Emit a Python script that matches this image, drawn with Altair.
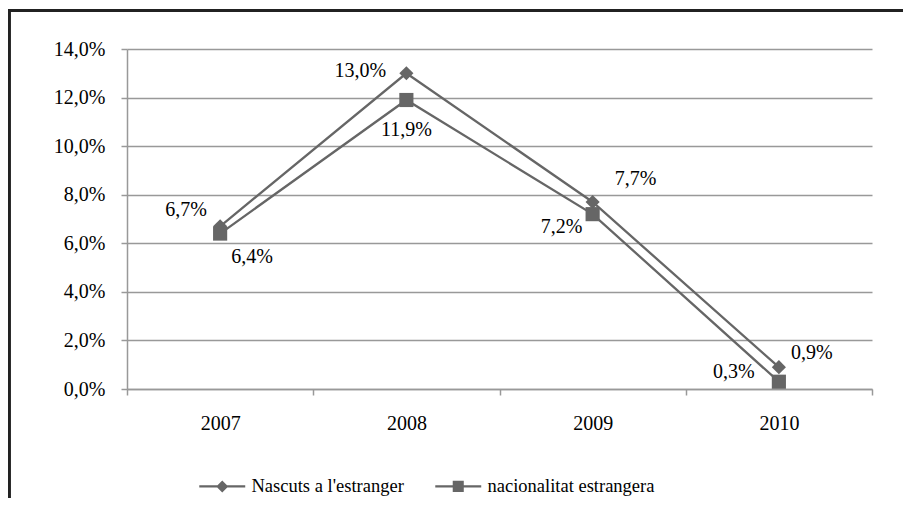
import altair as alt
import pandas as pd

years = ["2007", "2008", "2009", "2010"]
series_names = ["Nascuts a l'estranger", "nacionalitat estrangera"]
nascuts = [6.7, 13.0, 7.7, 0.9]
nacionalitat = [6.4, 11.9, 7.2, 0.3]

rows = []
for s, vals in zip(series_names, [nascuts, nacionalitat]):
    for y, v in zip(years, vals):
        rows.append({"year": y, "series": s, "value": v})
df = pd.DataFrame(rows)

# label placement (pixels) per point
label_offsets = {
    (series_names[0], "2007"): (-34, -16),
    (series_names[0], "2008"): (-46, -2),
    (series_names[0], "2009"): (43, -23),
    (series_names[0], "2010"): (33, -14),
    (series_names[1], "2007"): (32, 23),
    (series_names[1], "2008"): (0, 30),
    (series_names[1], "2009"): (-31, 13),
    (series_names[1], "2010"): (-45, -10),
}

GRAY = "#666666"
GRID = "#999999"
FONT = "Liberation Serif"

base = alt.Chart(df)

x_enc = alt.X(
    "year:O",
    sort=years,
    scale=alt.Scale(paddingInner=0, paddingOuter=0),
    axis=alt.Axis(
        title=None, labelAngle=0, tickBand="extent", grid=False,
        domainColor=GRID, domainWidth=1.5, tickColor=GRID, tickWidth=1.5,
        tickSize=6, labelPadding=18, labelFont=FONT, labelFontSize=20,
        labelColor="black",
    ),
)
y_enc = alt.Y(
    "value:Q",
    scale=alt.Scale(domain=[0, 14], nice=False),
    axis=alt.Axis(
        title=None, values=[0, 2, 4, 6, 8, 10, 12, 14],
        labelExpr="replace(format(datum.value, '.1f'), '.', ',') + '%'",
        grid=True, gridColor=GRID, gridWidth=1.5,
        domainColor=GRID, domainWidth=1.5, tickColor=GRID, tickWidth=1.5,
        tickSize=6, labelPadding=16, labelFont=FONT, labelFontSize=20,
        labelColor="black",
    ),
)

lines = base.mark_line(color=GRAY, strokeWidth=2.3).encode(
    x=x_enc, y=y_enc, detail="series:N"
)

points_a = base.transform_filter(alt.datum.series == series_names[0]).mark_point(
    filled=True, color=GRAY, size=200, opacity=1, shape="diamond"
).encode(x=x_enc, y=y_enc)
points_b = base.transform_filter(alt.datum.series == series_names[1]).mark_point(
    filled=True, color=GRAY, size=200, opacity=1, shape="square"
).encode(x=x_enc, y=y_enc)

# legend symbols: a thin bar (line) with the marker in the middle, all filled
leg_diamond = "M-3.83,-0.18H3.83V0.18H-3.83ZM0,-1L1,0L0,1L-1,0Z"
leg_square = "M-3.83,-0.18H3.83V0.18H-3.83ZM-0.92,-0.92H0.92V0.92H-0.92Z"

legend_layer = base.mark_point(filled=True, color=GRAY, opacity=0).encode(
    x=x_enc, y=y_enc,
    shape=alt.Shape(
        "series:N", sort=series_names,
        scale=alt.Scale(domain=series_names, range=[leg_diamond, leg_square]),
        legend=alt.Legend(
            title=None, orient="none", direction="horizontal",
            legendX=72, legendY=428,
            symbolSize=144, symbolOpacity=1, symbolFillColor=GRAY,
            symbolStrokeWidth=0,
            symbolOffset=14, labelOffset=20, columnPadding=31,
            labelFont=FONT, labelFontSize=18.5, labelColor="black",
            labelLimit=400,
        ),
    ),
)

label_layers = []
for (s, y), (dx, dy) in label_offsets.items():
    label_layers.append(
        base.transform_filter(
            (alt.datum.series == s) & (alt.datum.year == y)
        ).transform_calculate(
            lbl="replace(format(datum.value, '.1f'), '.', ',') + '%'"
        ).mark_text(
            font=FONT, fontSize=20, color="black", dx=dx, dy=dy,
            align="center", baseline="middle",
        ).encode(x=x_enc, y=y_enc, text="lbl:N")
    )

border_top = base.mark_rule(color="#222222", strokeWidth=2.6).encode(
    x=alt.value(-119), x2=alt.value(780), y=alt.value(-38.5)
)
border_left = base.mark_rule(color="#222222", strokeWidth=2.6).encode(
    x=alt.value(-118), y=alt.value(-39.5), y2=alt.value(460)
)

chart = alt.layer(
    border_top, border_left, lines, legend_layer, points_a, points_b, *label_layers
).properties(
    width=745, height=340,
    autosize=alt.AutoSizeParams(type="none"),
    padding={"left": 119, "top": 41, "right": 31, "bottom": 109},
).configure(font=FONT).configure_view(stroke=None)

chart.save("out.html", embed_options={"renderer": "svg", "actions": False})
